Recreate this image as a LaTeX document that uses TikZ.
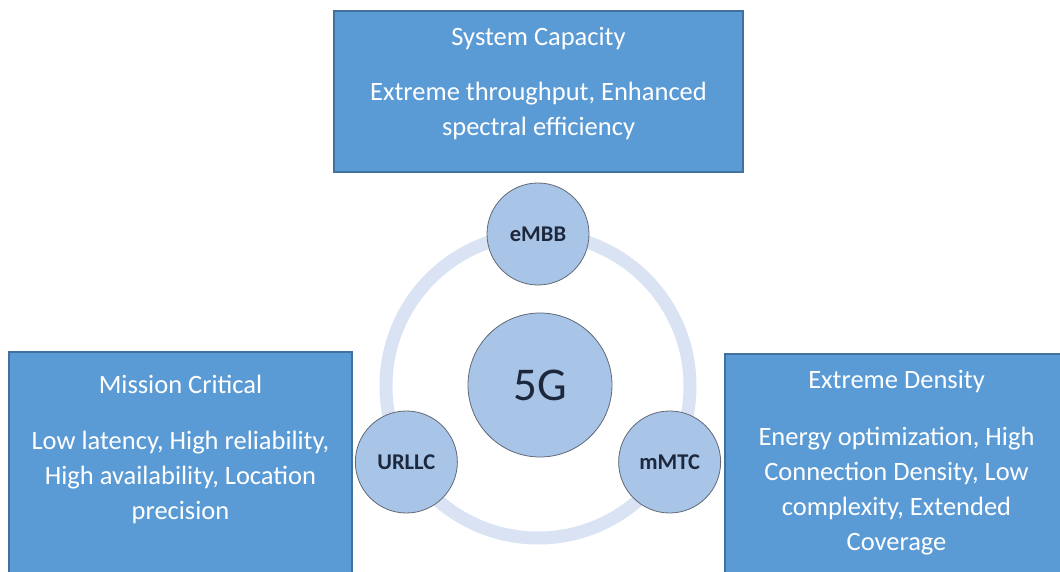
\documentclass[tikz,border=0pt]{standalone}
\usepackage{fontspec}
\setmainfont{Carlito}
\usetikzlibrary{positioning}
\definecolor{boxblue}{RGB}{91,155,213}
\definecolor{boxedge}{RGB}{65,113,156}
\definecolor{ballblue}{RGB}{168,197,232}
\definecolor{ringblue}{RGB}{218,227,243}
\definecolor{ballink}{RGB}{30,40,60}
\begin{document}
\begin{tikzpicture}[x=1pt,y=1pt,
    usecase/.style={rectangle, draw=boxedge, fill=boxblue, line width=1.5pt, inner sep=0pt},
    usehead/.style={text=white, font=\fontsize{26.5}{35}\selectfont, anchor=base, inner sep=0pt},
    usebody/.style={text=white, font=\fontsize{26.5}{35}\selectfont, align=center, anchor=north, inner sep=0pt},
    ball/.style={circle, draw=ballink!70, fill=ballblue, line width=0.8pt, inner sep=0pt, minimum size=102pt, text=ballink, font=\fontsize{22.5}{25}\selectfont\bfseries}]
  \useasboundingbox (0,0) rectangle (1060,571);
  % use case boxes
  \node[usecase, minimum width=409pt, minimum height=161pt] (capbox) at (538.5,479.5) {};
  \node[usecase, minimum width=343pt, minimum height=240pt] (critbox) at (180.5,99) {};
  \node[usecase, minimum width=343pt, minimum height=240pt] (densbox) at (896.5,97) {};
  \node[usehead] (caphead) at ([yshift=-35pt]capbox.north) {System Capacity};
  \node[usebody] (capbody) at ([yshift=-72pt]capbox.north) {Extreme throughput, Enhanced\\spectral efficiency};
  \node[usehead] (crithead) at ([yshift=-42pt]critbox.north) {Mission Critical};
  \node[usebody] (critbody) at ([yshift=-80pt]critbox.north) {Low latency, High reliability,\\High availability, Location\\precision};
  \node[usehead] (denshead) at ([yshift=-35pt]densbox.north) {Extreme Density};
  \node[usebody] (densbody) at ([yshift=-74pt]densbox.north) {Energy optimization, High\\Connection Density, Low\\complexity, Extended\\Coverage};
  % ring with the three services
  \coordinate (hub) at (538,185);
  \draw[ringblue, line width=13pt] (hub) circle (152pt);
  \node[ball, minimum size=144pt, font=\fontsize{47}{50}\selectfont] (core) at (540,186) {5G};
  \node[ball] (embb) at ([shift={(90:152pt)}]hub) {eMBB};
  \node[ball] (urllc) at ([shift={(210:152pt)}]hub) {URLLC};
  \node[ball] (mmtc) at ([shift={(330:152pt)}]hub) {mMTC};
\end{tikzpicture}
\end{document}
